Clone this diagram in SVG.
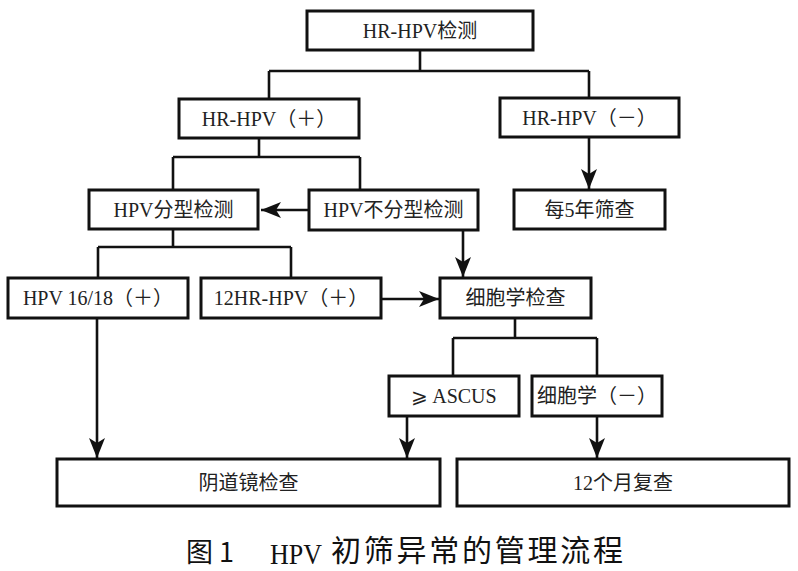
<svg xmlns="http://www.w3.org/2000/svg" width="798" height="571" viewBox="0 0 798 571">
<style>
.box{fill:#fff;stroke:#111;stroke-width:3}
.t{font-family:"Liberation Serif","Noto Sans CJK SC",serif;font-size:20px;fill:#222;text-anchor:middle}
.ln{fill:none;stroke:#111;stroke-width:2.6}
.ar{fill:none;stroke:#111;stroke-width:2.6;marker-end:url(#ah)}
</style>
<defs>
<marker id="ah" markerUnits="userSpaceOnUse" markerWidth="20" markerHeight="16" refX="20" refY="8" orient="auto" viewBox="0 0 20 16">
<path d="M0,0 L20,8 L0,16 L5,8 z" fill="#111"/>
</marker>
</defs>
<rect width="798" height="571" fill="#fff"/>
<g id="connectors">
<path class="ln" d="M420,50 V71 M269,71 H589 M269,71 V99 M589,71 V98"/>
<path class="ar" d="M589,137 V189"/>
<path class="ln" d="M259,138 V157 M173,157 H360 M173,157 V190 M360,157 V190"/>
<path class="ar" d="M309,210 H261"/>
<path class="ln" d="M173,229 V247 M98,247 H291 M98,247 V278 M291,247 V278"/>
<path class="ar" d="M463,230 V277"/>
<path class="ar" d="M381,299 H439"/>
<path class="ln" d="M515,318 V338 M453,338 H597 M453,338 V376 M597,338 V376"/>
<path class="ar" d="M407,416 V458"/>
<path class="ar" d="M597,416 V458"/>
<path class="ar" d="M97,318 V458"/>
</g>
<g id="n1"><rect class="box" x="307" y="11" width="226" height="39"/><text class="t" x="420" y="37.5">HR-HPV检测</text></g>
<g id="n2"><rect class="box" x="179" y="99" width="180" height="39"/><text class="t" x="269" y="125.5">HR-HPV（＋）</text></g>
<g id="n3"><rect class="box" x="500" y="98" width="179" height="39"/><text class="t" x="589.5" y="124.5">HR-HPV（－）</text></g>
<g id="n4"><rect class="box" x="89" y="190" width="169" height="39"/><text class="t" x="173.5" y="217">HPV分型检测</text></g>
<g id="n5"><rect class="box" x="309" y="190" width="169" height="40"/><text class="t" x="393.5" y="217">HPV不分型检测</text></g>
<g id="n6"><rect class="box" x="514" y="190" width="151" height="39"/><text class="t" x="589.5" y="217">每5年筛查</text></g>
<g id="n7"><rect class="box" x="8" y="278" width="180" height="40"/><text class="t" x="98" y="305">HPV 16/18（＋）</text></g>
<g id="n8"><rect class="box" x="201" y="278" width="180" height="40"/><text class="t" x="291" y="305">12HR-HPV（＋）</text></g>
<g id="n9"><rect class="box" x="440" y="278" width="151" height="40"/><text class="t" x="515.5" y="305">细胞学检查</text></g>
<g id="n10"><rect class="box" x="389" y="376" width="130" height="40"/><text class="t" x="454" y="403">⩾ ASCUS</text></g>
<g id="n11"><rect class="box" x="532" y="376" width="130" height="40"/><text class="t" x="597" y="403">细胞学（－）</text></g>
<g id="n12"><rect class="box" x="57" y="459" width="383" height="47"/><text class="t" x="248.5" y="489.5">阴道镜检查</text></g>
<g id="n13"><rect class="box" x="457" y="459" width="332" height="47"/><text class="t" x="623" y="489.5">12个月复查</text></g>
<g id="caption" font-family="Liberation Serif,Noto Sans CJK SC,serif" fill="#111">
<text x="186" y="562" font-family="Noto Sans CJK SC,sans-serif" font-size="27">图 1</text>
<text x="270" y="564" font-size="30" textLength="52" lengthAdjust="spacingAndGlyphs">HPV</text>
<text x="331" y="561" font-size="30" textLength="292" lengthAdjust="spacing">初筛异常的管理流程</text>
</g>
</svg>
